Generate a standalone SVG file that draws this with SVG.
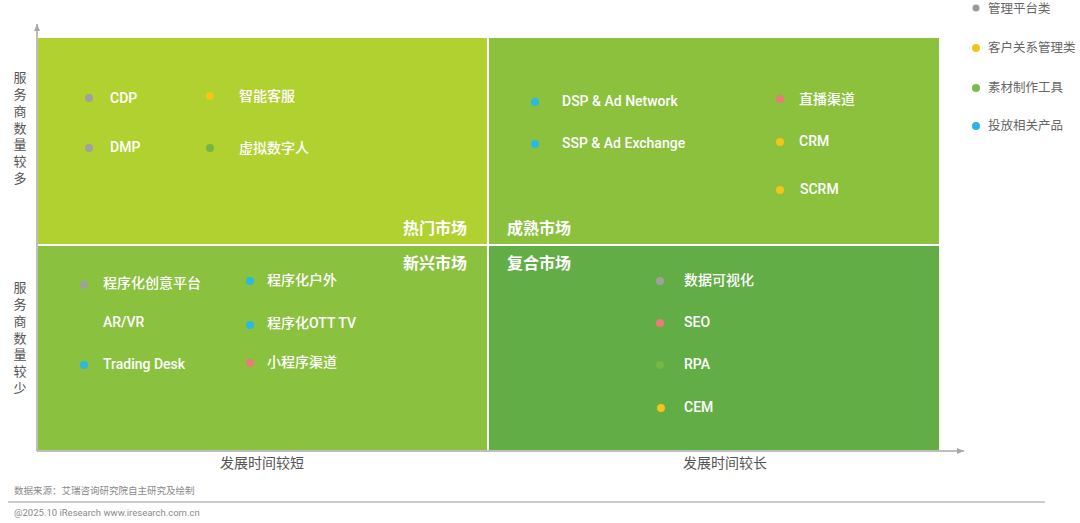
<svg xmlns="http://www.w3.org/2000/svg" width="1080" height="523" viewBox="0 0 1080 523">
<style>
  .t{font-family:Roboto,"Noto Sans CJK SC",sans-serif;font-size:14px;font-weight:500;fill:#ffffff}
  .q{font-family:Roboto,"Noto Sans CJK SC",sans-serif;font-size:16px;font-weight:700;fill:#ffffff}
  .ax{font-family:"Noto Sans CJK SC",sans-serif;font-size:14px;fill:#555555}
  .av{font-family:"Noto Sans CJK SC",sans-serif;font-size:13px;fill:#555555;writing-mode:vertical-rl;letter-spacing:3.7px}
  .lg{font-family:"Noto Sans CJK SC",sans-serif;font-size:12.5px;fill:#666666}
  .ft{font-family:Roboto,"Noto Sans CJK SC",sans-serif;font-size:9.5px;fill:#8a8a8a}
  .gray{fill:#a0a0a0}.yel{fill:#f6c419}.grn{fill:#74b743}.blu{fill:#2bb8e2}.pnk{fill:#ea7b76}
</style>
<defs>
  <marker id="arr" markerWidth="8" markerHeight="8" refX="7" refY="4" orient="auto" markerUnits="userSpaceOnUse">
    <path d="M0,1 L7,4 L0,7 Z" fill="#a8a8a8"/>
  </marker>
</defs>
<rect width="1080" height="523" fill="#ffffff"/>

<g id="quadrants">
  <rect x="38" y="38" width="449" height="206" fill="#b1d130"/>
  <rect x="489" y="38" width="450" height="206" fill="#8bc13d"/>
  <rect x="38" y="246" width="449" height="204" fill="#8ac13e"/>
  <rect x="489" y="246" width="450" height="204" fill="#63ad46"/>
</g>

<g id="connectors">
  <line x1="37" y1="451" x2="37" y2="24" stroke="#a8a8a8" stroke-width="1.5" marker-end="url(#arr)"/>
  <line x1="37" y1="451" x2="964" y2="451" stroke="#a8a8a8" stroke-width="1.5" marker-end="url(#arr)"/>
</g>

<g id="axis-labels">
  <text class="av" x="20" y="71">服务商数量较多</text>
  <text class="av" x="20" y="281">服务商数量较少</text>
  <text class="ax" x="262" y="468" text-anchor="middle">发展时间较短</text>
  <text class="ax" x="725" y="468" text-anchor="middle">发展时间较长</text>
</g>

<g id="quadrant-labels">
  <text class="q" x="467" y="234" text-anchor="end">热门市场</text>
  <text class="q" x="507" y="234">成熟市场</text>
  <text class="q" x="467" y="269" text-anchor="end">新兴市场</text>
  <text class="q" x="507" y="269">复合市场</text>
</g>

<g id="node-cdp"><circle class="gray" cx="89" cy="98" r="4"/><text class="t" x="110" y="103">CDP</text></g>
<g id="node-zhineng"><circle class="yel" cx="210" cy="96" r="4"/><text class="t" x="239" y="101">智能客服</text></g>
<g id="node-dmp"><circle class="gray" cx="89" cy="148" r="4"/><text class="t" x="110" y="152">DMP</text></g>
<g id="node-xuni"><circle class="grn" cx="210" cy="148" r="4"/><text class="t" x="239" y="153">虚拟数字人</text></g>

<g id="node-dsp"><circle class="blu" cx="535" cy="102" r="4"/><text class="t" x="562" y="106">DSP &amp; Ad Network</text></g>
<g id="node-ssp"><circle class="blu" cx="535" cy="144" r="4"/><text class="t" x="562" y="148">SSP &amp; Ad Exchange</text></g>
<g id="node-zhibo"><circle class="pnk" cx="780" cy="99" r="4"/><text class="t" x="799" y="104">直播渠道</text></g>
<g id="node-crm"><circle class="yel" cx="780" cy="142" r="4"/><text class="t" x="799" y="146">CRM</text></g>
<g id="node-scrm"><circle class="yel" cx="780" cy="190" r="4"/><text class="t" x="800" y="194">SCRM</text></g>

<g id="node-chuangyi"><circle class="gray" cx="84" cy="285" r="4"/><text class="t" x="103" y="288">程序化创意平台</text></g>
<g id="node-arvr"><text class="t" x="103" y="327">AR/VR</text></g>
<g id="node-trading"><circle class="blu" cx="84" cy="365" r="4"/><text class="t" x="103" y="369">Trading Desk</text></g>
<g id="node-huwai"><circle class="blu" cx="250" cy="281" r="4"/><text class="t" x="267" y="285">程序化户外</text></g>
<g id="node-ott"><circle class="blu" cx="250" cy="325" r="4"/><text class="t" x="267" y="328">程序化OTT TV</text></g>
<g id="node-xiaochengxu"><circle class="pnk" cx="250" cy="363" r="4"/><text class="t" x="267" y="367">小程序渠道</text></g>

<g id="node-shuju"><circle class="gray" cx="660" cy="281" r="4"/><text class="t" x="684" y="285">数据可视化</text></g>
<g id="node-seo"><circle class="pnk" cx="660" cy="323" r="4"/><text class="t" x="684" y="327">SEO</text></g>
<g id="node-rpa"><circle class="grn" cx="660" cy="365" r="4"/><text class="t" x="684" y="369">RPA</text></g>
<g id="node-cem"><circle class="yel" cx="661" cy="408" r="4"/><text class="t" x="684" y="412">CEM</text></g>

<g id="legend">
  <circle cx="976" cy="8" r="3.5" fill="#9a9a9a"/><text class="lg" x="988" y="13">管理平台类</text>
  <circle cx="976" cy="48" r="4" fill="#f2c41c"/><text class="lg" x="988" y="52">客户关系管理类</text>
  <circle cx="976" cy="88" r="4" fill="#7db84a"/><text class="lg" x="988" y="92">素材制作工具</text>
  <circle cx="976" cy="126" r="4" fill="#2cb4e6"/><text class="lg" x="988" y="130">投放相关产品</text>
</g>

<g id="footer">
  <text class="ft" x="14" y="494">数据来源：艾瑞咨询研究院自主研究及绘制</text>
  <line x1="8" y1="502" x2="1045" y2="502" stroke="#bdbdbd" stroke-width="1.5"/>
  <text class="ft" x="14" y="516" font-size="10">@2025.10 iResearch www.iresearch.com.cn</text>
</g>
</svg>
